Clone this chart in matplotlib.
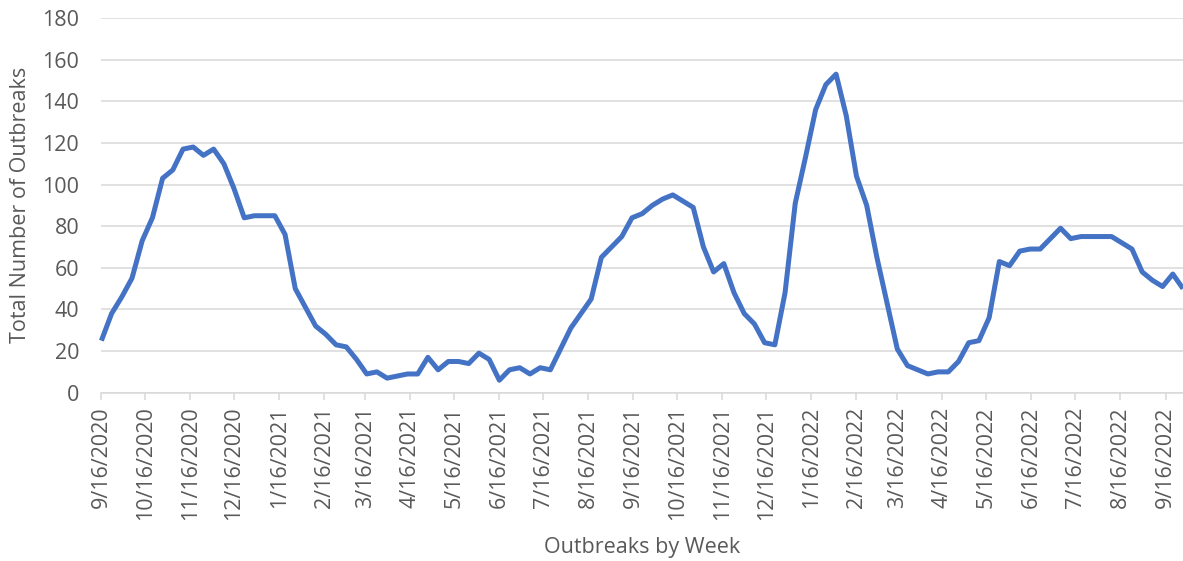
import pandas as pd
import matplotlib
matplotlib.use('Agg')
import matplotlib.pyplot as plt
import matplotlib.dates as mdates
from matplotlib.ticker import FuncFormatter

# weekly outbreak counts, starting 9/16/2020
start_date = '2020-09-16'
outbreaks = [
    25, 38, 46, 55, 73, 84, 103, 107, 117, 118,
    114, 117, 110, 98, 84, 85, 85, 85, 76, 50,
    41, 32, 28, 23, 22, 16, 9, 10, 7, 8,
    9, 9, 17, 11, 15, 15, 14, 19, 16, 6,
    11, 12, 9, 12, 11, 21, 31, 38, 45, 65,
    70, 75, 84, 86, 90, 93, 95, 92, 89, 70,
    58, 62, 48, 38, 33, 24, 23, 48, 91, 113,
    136, 148, 153, 133, 104, 90, 65, 43, 21, 13,
    11, 9, 10, 10, 15, 24, 25, 36, 63, 61,
    68, 69, 69, 74, 79, 74, 75, 75, 75, 75,
    72, 69, 58, 54, 51, 57, 50,
]
weeks = pd.date_range(start=start_date, periods=len(outbreaks), freq='7D')
yticks = list(range(0, 181, 20))

plt.rcParams['font.family'] = ['Open Sans', 'DejaVu Sans']
text_color = '#595959'
grid_color = '#d9d9d9'

fig = plt.figure(figsize=(11.83, 5.61), dpi=100)
ax = fig.add_axes([0.0857, 0.300, 0.9143, 0.668])

ax.plot(weeks, outbreaks, color='#4472C4', linewidth=3.6, solid_joinstyle='round',
        solid_capstyle='butt', clip_on=False)

ax.set_xlim(weeks[0], weeks[-1])
ax.set_ylim(0, 180)
ax.set_yticks(yticks)

ax.xaxis.set_major_locator(mdates.MonthLocator(bymonthday=16))
ax.xaxis.set_major_formatter(FuncFormatter(
    lambda v, pos: '{d.month}/{d.day}/{d.year}'.format(d=mdates.num2date(v))))

ax.grid(axis='y', color=grid_color, linewidth=1.1)
ax.set_axisbelow(True)
for side in ['top', 'right', 'left']:
    ax.spines[side].set_visible(False)
ax.spines['bottom'].set_color(grid_color)
ax.spines['bottom'].set_linewidth(1.1)

ax.tick_params(axis='y', length=0, pad=16, labelsize=15.5, labelcolor=text_color)
ax.tick_params(axis='x', length=5, width=1.1, color=grid_color, pad=5,
               labelsize=15.5, labelcolor=text_color)
for lbl in ax.get_xticklabels():
    lbl.set_rotation(90)
    lbl.set_va('top')
    lbl.set_ha('center')

ax.set_ylabel('Total Number of Outbreaks', fontsize=15.5, color=text_color)
ax.yaxis.set_label_coords(-0.065, 0.5)
fig.text(0.5427, 1 - 548 / 561, 'Outbreaks by Week', fontsize=15.5, color=text_color,
         ha='center', va='center')

fig.savefig('out.png', dpi=100)
